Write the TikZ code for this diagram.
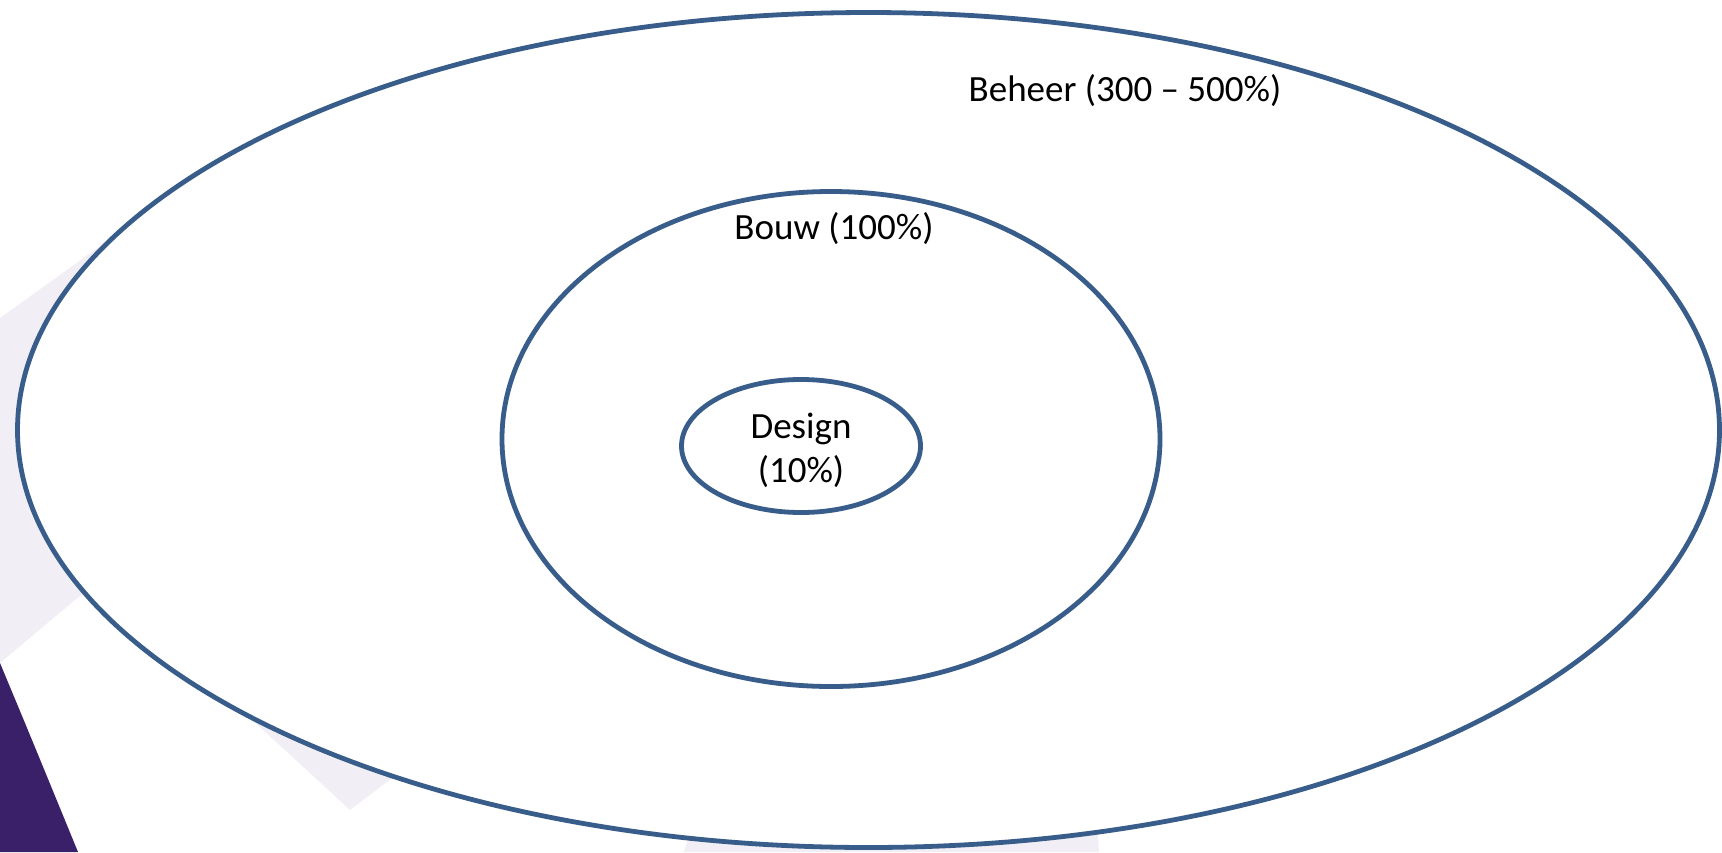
\documentclass[tikz,border=0pt]{standalone}
\usepackage{fontspec}
\setmainfont{Carlito}
\usetikzlibrary{shapes.geometric}
\definecolor{ringblue}{HTML}{385D8A}
\definecolor{lavender}{HTML}{F1EEF5}
\definecolor{deeppurple}{HTML}{3A1F69}
\begin{document}
\begin{tikzpicture}[x=1pt,y=-1pt,
    ring/.style={draw=ringblue,line width=4.8pt,fill=white,ellipse,inner sep=0pt},
    tag/.style={font=\fontsize{37}{44}\selectfont,align=center,inner sep=0pt}]
  \useasboundingbox (0,0) rectangle (1722,852);

  % background pieces of the slide
  \fill [lavender] (0,318) -- (110,239) -- (300,430) -- (75,600) -- (0,663) -- cycle;
  \fill [lavender] (200,672) -- (350,810) -- (420,757) -- (330,640) -- cycle;
  \fill [lavender] (684,852) -- (694,820) -- (1097,820) -- (1099,852) -- cycle;
  \fill [deeppurple] (0,663) .. controls (30,735) .. (78,852) -- (0,852) -- cycle;

  % the three rings
  \coordinate (co) at (868.5,430);
  \coordinate (cb) at (831,439);
  \coordinate (cd) at (801,446);

  \node [ring,minimum width=1702pt,minimum height=835pt] (beheer) at (co) {};
  \node [ring,minimum width=658pt,minimum height=495pt] (bouw) at (cb) {};
  \node [ring,minimum width=239pt,minimum height=133pt] (design) at (cd) {};

  % labels
  \node [tag] (beheerlbl) at (1125,91) {Beheer (300 – 500\%)};
  \node [tag] (bouwlbl) at (834,229) {Bouw (100\%)};
  \node [tag] (designlbl) at (801,450) {Design\\(10\%)};

\end{tikzpicture}
\end{document}
